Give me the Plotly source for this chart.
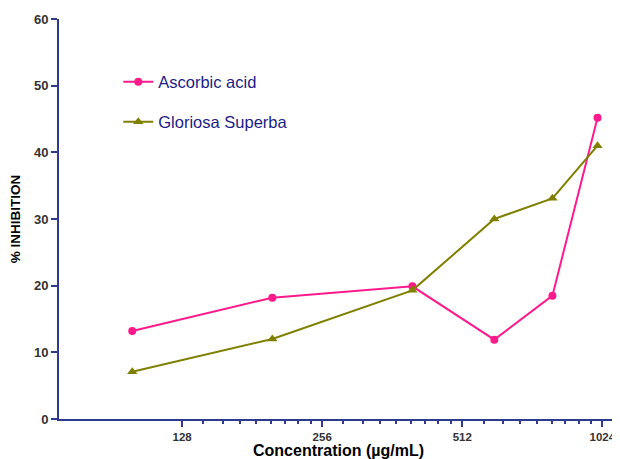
import plotly.graph_objects as go

concentration = [100, 200, 400, 600, 800, 1000]
ascorbic_acid = [13.2, 18.2, 19.9, 11.9, 18.5, 45.2]
gloriosa_superba = [7.1, 12.0, 19.3, 30.0, 33.1, 41.0]

x_tick_vals = [128, 256, 512, 1024]
x_tick_text = ["128", "256", "512", "1024"]
y_tick_vals = [0, 10, 20, 30, 40, 50, 60]

# Prism-style minor ticks: 8 per octave, linear in value
minor_vals = []
for base in [128, 256, 512]:
    for k in range(1, 9):
        minor_vals.append(base + base * k / 9)

pink = "#FF1A8C"
olive = "#808000"
axis_col = "#2E3A8C"
font_fam = "Liberation Sans, Arial, sans-serif"

fig = go.Figure()
fig.add_trace(go.Scatter(
    x=concentration, y=ascorbic_acid, mode="lines+markers", name="Ascorbic acid",
    line=dict(color=pink, width=2), marker=dict(symbol="circle", size=8, color=pink),
    legend="legend",
))
fig.add_trace(go.Scatter(
    x=concentration, y=gloriosa_superba, mode="lines+markers", name="Gloriosa Superba",
    line=dict(color=olive, width=2), marker=dict(symbol="triangle-up", size=9, color=olive),
    legend="legend2",
))

legend_common = dict(
    font=dict(family=font_fam, size=16.5, color="#1C1C86"),
    bgcolor="rgba(0,0,0,0)", xanchor="left", yanchor="middle",
)
# the page body has an 8px default margin, so the figure is 8px smaller
fig.update_layout(
    width=612, height=451,
    margin=dict(l=51, r=2, t=11, b=40, autoexpand=False),
    plot_bgcolor="white", paper_bgcolor="white",
    showlegend=True,
    legend=dict(x=0.106, y=(400 - 63) / 400, **legend_common),
    legend2=dict(x=0.106, y=(400 - 103) / 400, **legend_common),
    font=dict(family=font_fam),
)
fig.update_xaxes(
    type="log", range=[1.8426, 3.044], automargin=False,
    tickvals=x_tick_vals, ticktext=x_tick_text,
    ticks="outside", ticklen=6, tickwidth=2, tickcolor=axis_col,
    showline=True, linecolor=axis_col, linewidth=2,
    showgrid=False, zeroline=False,
    tickfont=dict(size=11.5, color="#333333", family=font_fam, weight="bold"),
    minor=dict(tickvals=minor_vals, ticks="outside", ticklen=3, tickwidth=2, tickcolor=axis_col, showgrid=False),
    title=dict(text="Concentration (µg/mL)", font=dict(size=16, color="black", weight="bold"), standoff=2),
)
fig.update_yaxes(
    range=[0, 60], tickvals=y_tick_vals, automargin=False,
    ticks="outside", ticklen=6, tickwidth=2, tickcolor=axis_col,
    showline=True, linecolor=axis_col, linewidth=2,
    showgrid=False, zeroline=False,
    tickfont=dict(size=13, color="#333333", family=font_fam, weight="bold"),
    title=dict(text="% INHIBITION", font=dict(size=13.5, color="black", weight="bold"), standoff=11),
)
fig.write_html("out.html")
